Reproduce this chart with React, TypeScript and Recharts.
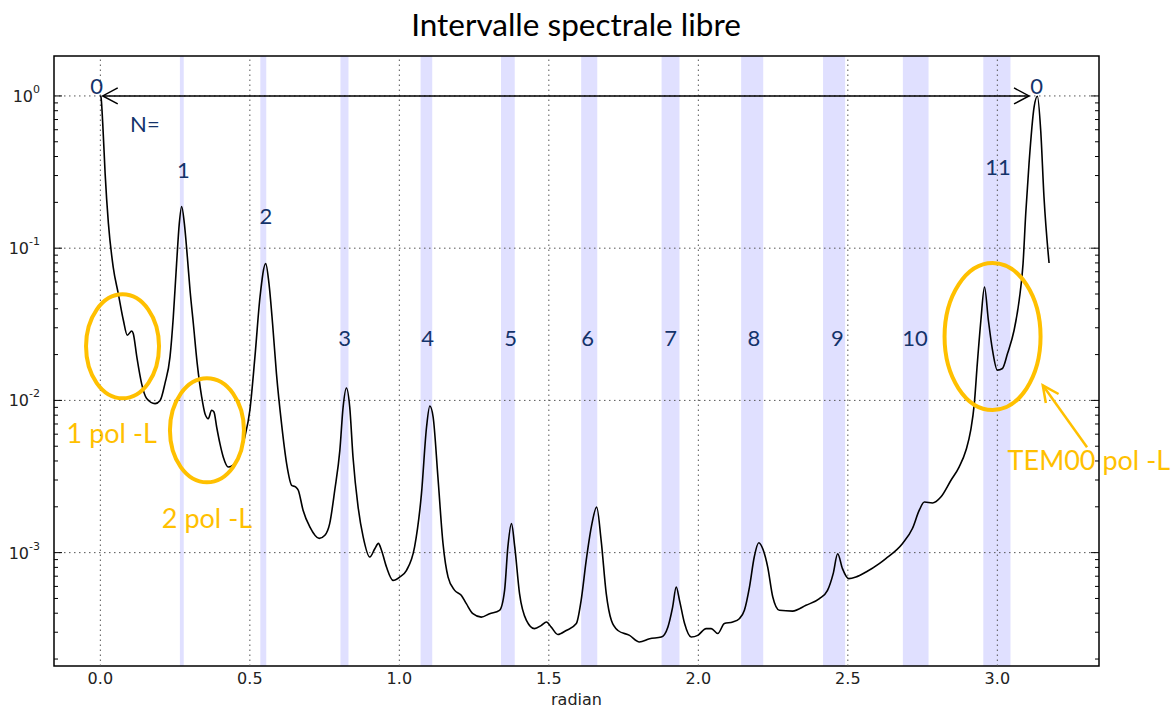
import React from "react"
import { LineChart, Line, XAxis, YAxis, ReferenceArea, ReferenceLine, ReferenceDot } from "recharts"

// phase (radian) and normalised transmission
const radian = [
  0, 0.002, 0.008, 0.016, 0.027, 0.043, 0.06, 0.077, 0.09, 0.105,
  0.11, 0.122, 0.138, 0.155, 0.183, 0.2, 0.216, 0.233, 0.244, 0.255,
  0.264, 0.272, 0.281, 0.291, 0.3, 0.311, 0.324, 0.339, 0.35, 0.361,
  0.372, 0.38, 0.389, 0.4, 0.411, 0.428, 0.444, 0.467, 0.483, 0.5,
  0.517, 0.534, 0.553, 0.564, 0.576, 0.589, 0.606, 0.623, 0.64, 0.653,
  0.662, 0.678, 0.701, 0.732, 0.751, 0.767, 0.784, 0.801, 0.812, 0.823,
  0.834, 0.845, 0.862, 0.879, 0.901, 0.918, 0.93, 0.94, 0.957, 0.979,
  1.001, 1.024, 1.051, 1.074, 1.091, 1.102, 1.113, 1.129, 1.146, 1.163,
  1.185, 1.207, 1.224, 1.246, 1.274, 1.302, 1.335, 1.352, 1.363, 1.375,
  1.386, 1.402, 1.425, 1.452, 1.475, 1.492, 1.508, 1.53, 1.558, 1.592,
  1.608, 1.625, 1.642, 1.66, 1.675, 1.692, 1.709, 1.731, 1.77, 1.803,
  1.837, 1.876, 1.898, 1.914, 1.926, 1.937, 1.954, 1.976, 1.998, 2.026,
  2.043, 2.065, 2.087, 2.115, 2.137, 2.154, 2.171, 2.187, 2.202, 2.217,
  2.232, 2.249, 2.271, 2.315, 2.36, 2.405, 2.432, 2.451, 2.466, 2.482,
  2.503, 2.527, 2.561, 2.605, 2.627, 2.683, 2.716, 2.739, 2.756, 2.783,
  2.811, 2.845, 2.872, 2.895, 2.911, 2.923, 2.933, 2.945, 2.957, 2.97,
  2.984, 3.0, 3.017, 3.034, 3.056, 3.073, 3.086, 3.095, 3.106, 3.123,
  3.134, 3.145, 3.156, 3.173,
]

const intensity = [
  1.0, 0.985, 0.659, 0.309, 0.145, 0.0752, 0.0503, 0.0336, 0.0268, 0.0286,
  0.0275, 0.0193, 0.0129, 0.0103, 0.00953, 0.01, 0.0129, 0.0193, 0.0353, 0.0792,
  0.145, 0.188, 0.145, 0.0875, 0.0529, 0.032, 0.01745, 0.01052, 0.00818, 0.00759,
  0.00861, 0.00839, 0.00669, 0.0052, 0.00425, 0.00365, 0.00375, 0.00447, 0.00575, 0.00861,
  0.0193, 0.0478, 0.0792, 0.0585, 0.032, 0.015, 0.00704, 0.00385, 0.00277, 0.0027,
  0.00257, 0.0019, 0.00147, 0.00124, 0.0013, 0.00155, 0.00257, 0.0047, 0.00906, 0.01206,
  0.00906, 0.00425, 0.002, 0.00127, 0.000936, 0.00106, 0.00115, 0.00104, 0.000804, 0.000657,
  0.000691, 0.000766, 0.00109, 0.00244, 0.00669, 0.00919, 0.00778, 0.00314, 0.00115, 0.000691,
  0.000565, 0.000524, 0.000462, 0.000397, 0.000377, 0.000397, 0.000418, 0.000565, 0.00109, 0.00155,
  0.00109, 0.000538, 0.000359, 0.000317, 0.000333, 0.00035, 0.000324, 0.00029, 0.000308, 0.000342,
  0.000486, 0.00089, 0.00147, 0.00199, 0.0012, 0.000538, 0.000359, 0.000308, 0.000286, 0.000259,
  0.000272, 0.000279, 0.000324, 0.000439, 0.000594, 0.000486, 0.000342, 0.000279, 0.000286, 0.000317,
  0.000317, 0.000294, 0.000342, 0.00035, 0.000368, 0.000418, 0.000594, 0.000936, 0.00116, 0.00104,
  0.000804, 0.000511, 0.000418, 0.000413, 0.000451, 0.000499, 0.000565, 0.000728, 0.000984, 0.000785,
  0.000675, 0.000691, 0.000746, 0.000847, 0.000914, 0.00115, 0.00144, 0.0019, 0.00215, 0.00212,
  0.00232, 0.00299, 0.00365, 0.0047, 0.00637, 0.00953, 0.01745, 0.0336, 0.0556, 0.0336,
  0.0213, 0.0158, 0.0162, 0.0203, 0.0289, 0.0455, 0.0792, 0.169, 0.36, 0.847,
  0.995, 0.595, 0.217, 0.0799,
]

// shaded windows for each mode order N
const bandStart = [0.266, 0.535, 0.803, 1.071, 1.34, 1.608, 1.877, 2.143, 2.417, 2.684, 2.953]
const bandEnd = [0.279, 0.555, 0.83, 1.11, 1.386, 1.662, 1.937, 2.217, 2.491, 2.77, 3.044]

const labelText = ["0", "N=", "1", "2", "3", "4", "5", "6", "7", "8", "9", "10", "11", "0"]
const labelX = [-0.012, 0.149, 0.278, 0.554, 0.817, 1.095, 1.372, 1.63, 1.907, 2.186, 2.465, 2.725, 3.002, 3.131]
const labelY = [1.176, 0.662, 0.331, 0.165, 0.0258, 0.0258, 0.0258, 0.0258, 0.0258, 0.0258, 0.0258, 0.0258, 0.3415, 1.18]

const xTicks = [0, 0.5, 1.0, 1.5, 2.0, 2.5, 3.0]
const majorTicks = [0.001, 0.01, 0.1, 1]
const minorTicks = [
  0.0002, 0.0003, 0.0004, 0.0005, 0.0006, 0.0007, 0.0008, 0.0009,
  0.002, 0.003, 0.004, 0.005, 0.006, 0.007, 0.008, 0.009,
  0.02, 0.03, 0.04, 0.05, 0.06, 0.07, 0.08, 0.09,
  0.2, 0.3, 0.4, 0.5, 0.6, 0.7, 0.8, 0.9,
]

const X_DOMAIN: [number, number] = [-0.155, 3.34]
const Y_DOMAIN: [number, number] = [1.8e-4, 1.83]

const navy = "#14336a"
const gold = "#FFC000"
const tickFont = "DejaVu Sans"
const noteFont = "Lato"

const data = radian.map((r, i) => ({ radian: r, intensity: intensity[i] }))

const isMajor = (v: number) => majorTicks.some((m) => Math.abs(m - v) < m * 1e-6)

const LeftTick = (props: any) => {
  const { x, y, payload } = props
  const v = payload.value
  const major = isMajor(v)
  return (
    <g>
      <line x1={x} x2={x + (major ? 8 : 4)} y1={y} y2={y} stroke="#000" strokeWidth={1} />
      {major && (
        <text x={x - 14} y={y + 6} textAnchor="end" fontFamily={tickFont} fontSize={16} fill="#222">
          10
          <tspan dy={-9} fontSize={11}>
            {Math.round(Math.log10(v))}
          </tspan>
        </text>
      )}
    </g>
  )
}

const RightTick = (props: any) => {
  const { x, y, payload } = props
  const major = isMajor(payload.value)
  return <line x1={x} x2={x - (major ? 8 : 4)} y1={y} y2={y} stroke="#000" strokeWidth={1} />
}

const DoubleArrow = (p: any) => {
  const { x1, y1, x2, y2 } = p
  return (
    <g stroke="#000" strokeWidth={1.5} fill="none">
      <line x1={x1} y1={y1} x2={x2} y2={y2} />
      <polyline points={`${x1 + 15},${y1 - 8} ${x1},${y1} ${x1 + 15},${y1 + 8}`} />
      <polyline points={`${x2 - 15},${y2 - 8} ${x2},${y2} ${x2 - 15},${y2 + 8}`} />
    </g>
  )
}

const GoldArrow = (p: any) => {
  const { x1, y1, x2, y2 } = p
  const a = Math.atan2(y2 - y1, x2 - x1)
  const len = 18
  const h1x = x2 - len * Math.cos(a - 0.45)
  const h1y = y2 - len * Math.sin(a - 0.45)
  const h2x = x2 - len * Math.cos(a + 0.45)
  const h2y = y2 - len * Math.sin(a + 0.45)
  return (
    <g stroke={gold} strokeWidth={2.5} fill="none">
      <line x1={x1} y1={y1} x2={x2} y2={y2} />
      <polyline points={`${h1x},${h1y} ${x2},${y2} ${h2x},${h2y}`} />
    </g>
  )
}

const ellipse = (rx: number, ry: number) => (p: any) =>
  <ellipse cx={p.cx} cy={p.cy} rx={rx} ry={ry} fill="none" stroke={gold} strokeWidth={4} />

const note = (text: string, color: string, size: number) => (p: any) =>
  (
    <text x={p.cx} y={p.cy} textAnchor="middle" dominantBaseline="central" fontFamily={noteFont} fontSize={size} fill={color}>
      {text}
    </text>
  )

export default function App() {
  return (
    <div style={{ position: "absolute", left: 0, top: 0, width: 1176, height: 709, background: "#fff" }}>
      <div
        style={{
          position: "absolute",
          top: 5,
          left: 0,
          width: 1152,
          textAlign: "center",
          fontFamily: noteFont,
          fontSize: 31.5,
          lineHeight: "38px",
          color: "#000",
        }}
      >
        Intervalle spectrale libre
      </div>
      <LineChart width={1176} height={709} data={data} margin={{ top: 56, right: 0, bottom: 0, left: 0 }}>
        <XAxis
          dataKey="radian"
          type="number"
          domain={X_DOMAIN}
          allowDataOverflow
          ticks={xTicks}
          interval={0}
          tickFormatter={(v: number) => v.toFixed(1)}
          tickLine={false}
          axisLine={false}
          tickSize={0}
          tickMargin={7}
          height={43}
          tick={{ fill: "#222", fontSize: 16, fontFamily: tickFont }}
          label={{ value: "radian", position: "insideBottom", offset: 4, fill: "#222", fontSize: 16, fontFamily: tickFont }}
        />
        <YAxis
          scale="log"
          domain={Y_DOMAIN}
          allowDataOverflow
          ticks={[...majorTicks, ...minorTicks]}
          interval={0}
          tickLine={false}
          axisLine={false}
          tickSize={0}
          tickMargin={0}
          width={54}
          tick={LeftTick}
        />
        <YAxis
          yAxisId="r"
          orientation="right"
          scale="log"
          domain={Y_DOMAIN}
          allowDataOverflow
          ticks={[...majorTicks, ...minorTicks]}
          interval={0}
          tickLine={false}
          axisLine={false}
          tickSize={0}
          tickMargin={0}
          width={77}
          tick={RightTick}
        />

        {bandStart.map((s, i) => (
          <ReferenceArea key={`band-${i}`} x1={s} x2={bandEnd[i]} fill="#0000ff" fillOpacity={0.12} stroke="none" ifOverflow="visible" />
        ))}

        {xTicks.map((t) => (
          <ReferenceLine key={`gx-${t}`} x={t} stroke="#555" strokeDasharray="1.5 3.5" strokeWidth={1} />
        ))}
        {majorTicks.map((t) => (
          <ReferenceLine key={`gy-${t}`} y={t} stroke="#555" strokeDasharray="1.5 3.5" strokeWidth={1} />
        ))}

        <ReferenceArea
          x1={X_DOMAIN[0]}
          x2={X_DOMAIN[1]}
          y1={Y_DOMAIN[0]}
          y2={Y_DOMAIN[1]}
          fill="none"
          fillOpacity={0}
          stroke="#000"
          strokeWidth={1.5}
          ifOverflow="visible"
        />

        <Line dataKey="intensity" type="monotoneX" stroke="#000" strokeWidth={1.6} dot={false} activeDot={false} isAnimationActive={false} />

        <ReferenceLine
          segment={[
            { x: 0.008, y: 1 },
            { x: 3.106, y: 1 },
          ]}
          shape={DoubleArrow}
          ifOverflow="visible"
        />

        {labelText.map((t, i) => (
          <ReferenceDot key={`lab-${i}`} x={labelX[i]} y={labelY[i]} r={0} shape={note(t, navy, 22)} ifOverflow="visible" />
        ))}

        <ReferenceDot x={0.0742} y={0.02265} r={0} shape={ellipse(36.5, 52)} ifOverflow="visible" />
        <ReferenceDot x={0.3565} y={0.006361} r={0} shape={ellipse(37, 52)} ifOverflow="visible" />
        <ReferenceDot x={2.984} y={0.02625} r={0} shape={ellipse(48, 73.5)} ifOverflow="visible" />

        <ReferenceDot x={0.038} y={0.00617} r={0} shape={note("1 pol -L", gold, 27)} ifOverflow="visible" />
        <ReferenceDot x={0.3565} y={0.001706} r={0} shape={note("2 pol -L", gold, 27)} ifOverflow="visible" />
        <ReferenceDot x={3.306} y={0.0041} r={0} shape={note("TEM00 pol -L", gold, 27)} ifOverflow="visible" />

        <ReferenceLine
          segment={[
            { x: 3.3, y: 0.00492 },
            { x: 3.152, y: 0.01256 },
          ]}
          shape={GoldArrow}
          ifOverflow="visible"
        />
      </LineChart>
    </div>
  )
}
